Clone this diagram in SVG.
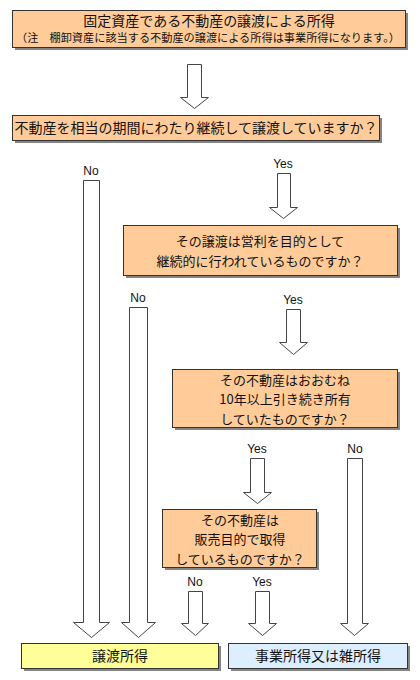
<svg xmlns="http://www.w3.org/2000/svg" width="420" height="680" viewBox="0 0 420 680">
<style>
.shadow{fill:#858585}
.box{stroke:#333;stroke-width:1}
.or{fill:#FFCC99}
.ye{fill:#FFFF99}
.bl{fill:#DDEFFF}
.arr{fill:#fff;stroke:#444;stroke-width:1}
.jp{font-family:"Noto Sans CJK JP","Noto Sans",sans-serif;font-size:14px;fill:#111;text-anchor:middle}
.sm{font-size:11px}
.ml{font-size:13px}
.lbl{font-family:"Liberation Sans",Arial,sans-serif;font-size:12px;fill:#111;text-anchor:middle}
</style>
<rect width="420" height="680" fill="#fff"/>
<g id="connectors">
<polygon class="arr" points="187.5,64.5 201.5,64.5 201.5,97.5 208.5,97.5 194.5,108.5 180.5,97.5 187.5,97.5"/>
<polygon class="arr" points="83.5,180.5 99.5,180.5 99.5,622.5 109.5,622.5 91.5,637.5 73.5,622.5 83.5,622.5"/>
<polygon class="arr" points="277.5,173.5 290.5,173.5 290.5,207.5 297.5,207.5 283.5,218.5 269.5,207.5 277.5,207.5"/>
<polygon class="arr" points="129.5,307.5 147.5,307.5 147.5,622.5 155.5,622.5 138.5,637.5 121.5,622.5 129.5,622.5"/>
<polygon class="arr" points="286.5,309.5 300.5,309.5 300.5,342.5 307.5,342.5 293.5,354.5 279.5,342.5 286.5,342.5"/>
<polygon class="arr" points="250.5,458.5 264.5,458.5 264.5,492.5 271.5,492.5 257.5,503.5 243.5,492.5 250.5,492.5"/>
<polygon class="arr" points="347.5,458.5 362.5,458.5 362.5,623.5 368.5,623.5 354.5,635.5 340.5,623.5 347.5,623.5"/>
<polygon class="arr" points="188.5,591.5 202.5,591.5 202.5,623.5 208.5,623.5 195.5,635.5 181.5,623.5 188.5,623.5"/>
<polygon class="arr" points="255.5,591.5 269.5,591.5 269.5,623.5 276.5,623.5 262.5,635.5 248.5,623.5 255.5,623.5"/>
<text class="lbl" x="91" y="175">No</text>
<text class="lbl" x="283" y="168">Yes</text>
<text class="lbl" x="138" y="302">No</text>
<text class="lbl" x="293" y="304">Yes</text>
<text class="lbl" x="257" y="453">Yes</text>
<text class="lbl" x="355" y="453">No</text>
<text class="lbl" x="195" y="586">No</text>
<text class="lbl" x="262" y="586">Yes</text>
</g>
<g id="n1">
<rect class="shadow" x="15" y="13" width="393" height="37"/>
<rect class="box or" x="12.5" y="10.5" width="393" height="37"/>
<text class="jp" x="209" y="26">固定資産である不動産の譲渡による所得</text>
<text class="jp sm" x="208" y="42" textLength="384" lengthAdjust="spacingAndGlyphs">（注　棚卸資産に該当する不動産の譲渡による所得は事業所得になります。）</text>
</g>
<g id="n2">
<rect class="shadow" x="15" y="118" width="367" height="25"/>
<rect class="box or" x="12.5" y="115.5" width="367" height="25"/>
<text class="jp" x="196" y="133">不動産を相当の期間にわたり継続して譲渡していますか？</text>
</g>
<g id="n3">
<rect class="shadow" x="126" y="228" width="274" height="50"/>
<rect class="box or" x="123.5" y="225.5" width="274" height="50"/>
<text class="jp ml" x="260" y="246">その譲渡は営利を目的として</text>
<text class="jp ml" x="260" y="265.5">継続的に行われているものですか？</text>
</g>
<g id="n4">
<rect class="shadow" x="175" y="372" width="225" height="58"/>
<rect class="box or" x="172.5" y="369.5" width="225" height="58"/>
<text class="jp ml" x="285" y="384.5">その不動産はおおむね</text>
<text class="jp ml" x="285" y="404">10年以上引き続き所有</text>
<text class="jp ml" x="285" y="423.5">していたものですか？</text>
</g>
<g id="n5">
<rect class="shadow" x="165" y="512" width="154" height="58"/>
<rect class="box or" x="162.5" y="509.5" width="154" height="58"/>
<text class="jp ml" x="240" y="524.5">その不動産は</text>
<text class="jp ml" x="240" y="544">販売目的で取得</text>
<text class="jp ml" x="240" y="563.5">しているものですか？</text>
</g>
<g id="n6">
<rect class="shadow" x="24" y="646" width="197" height="25"/>
<rect class="box ye" x="21.5" y="643.5" width="197" height="25"/>
<text class="jp" x="120" y="661">譲渡所得</text>
</g>
<g id="n7">
<rect class="shadow" x="231" y="646" width="179" height="25"/>
<rect class="box bl" x="228.5" y="643.5" width="179" height="25"/>
<text class="jp" x="318" y="661">事業所得又は雑所得</text>
</g>
</svg>
